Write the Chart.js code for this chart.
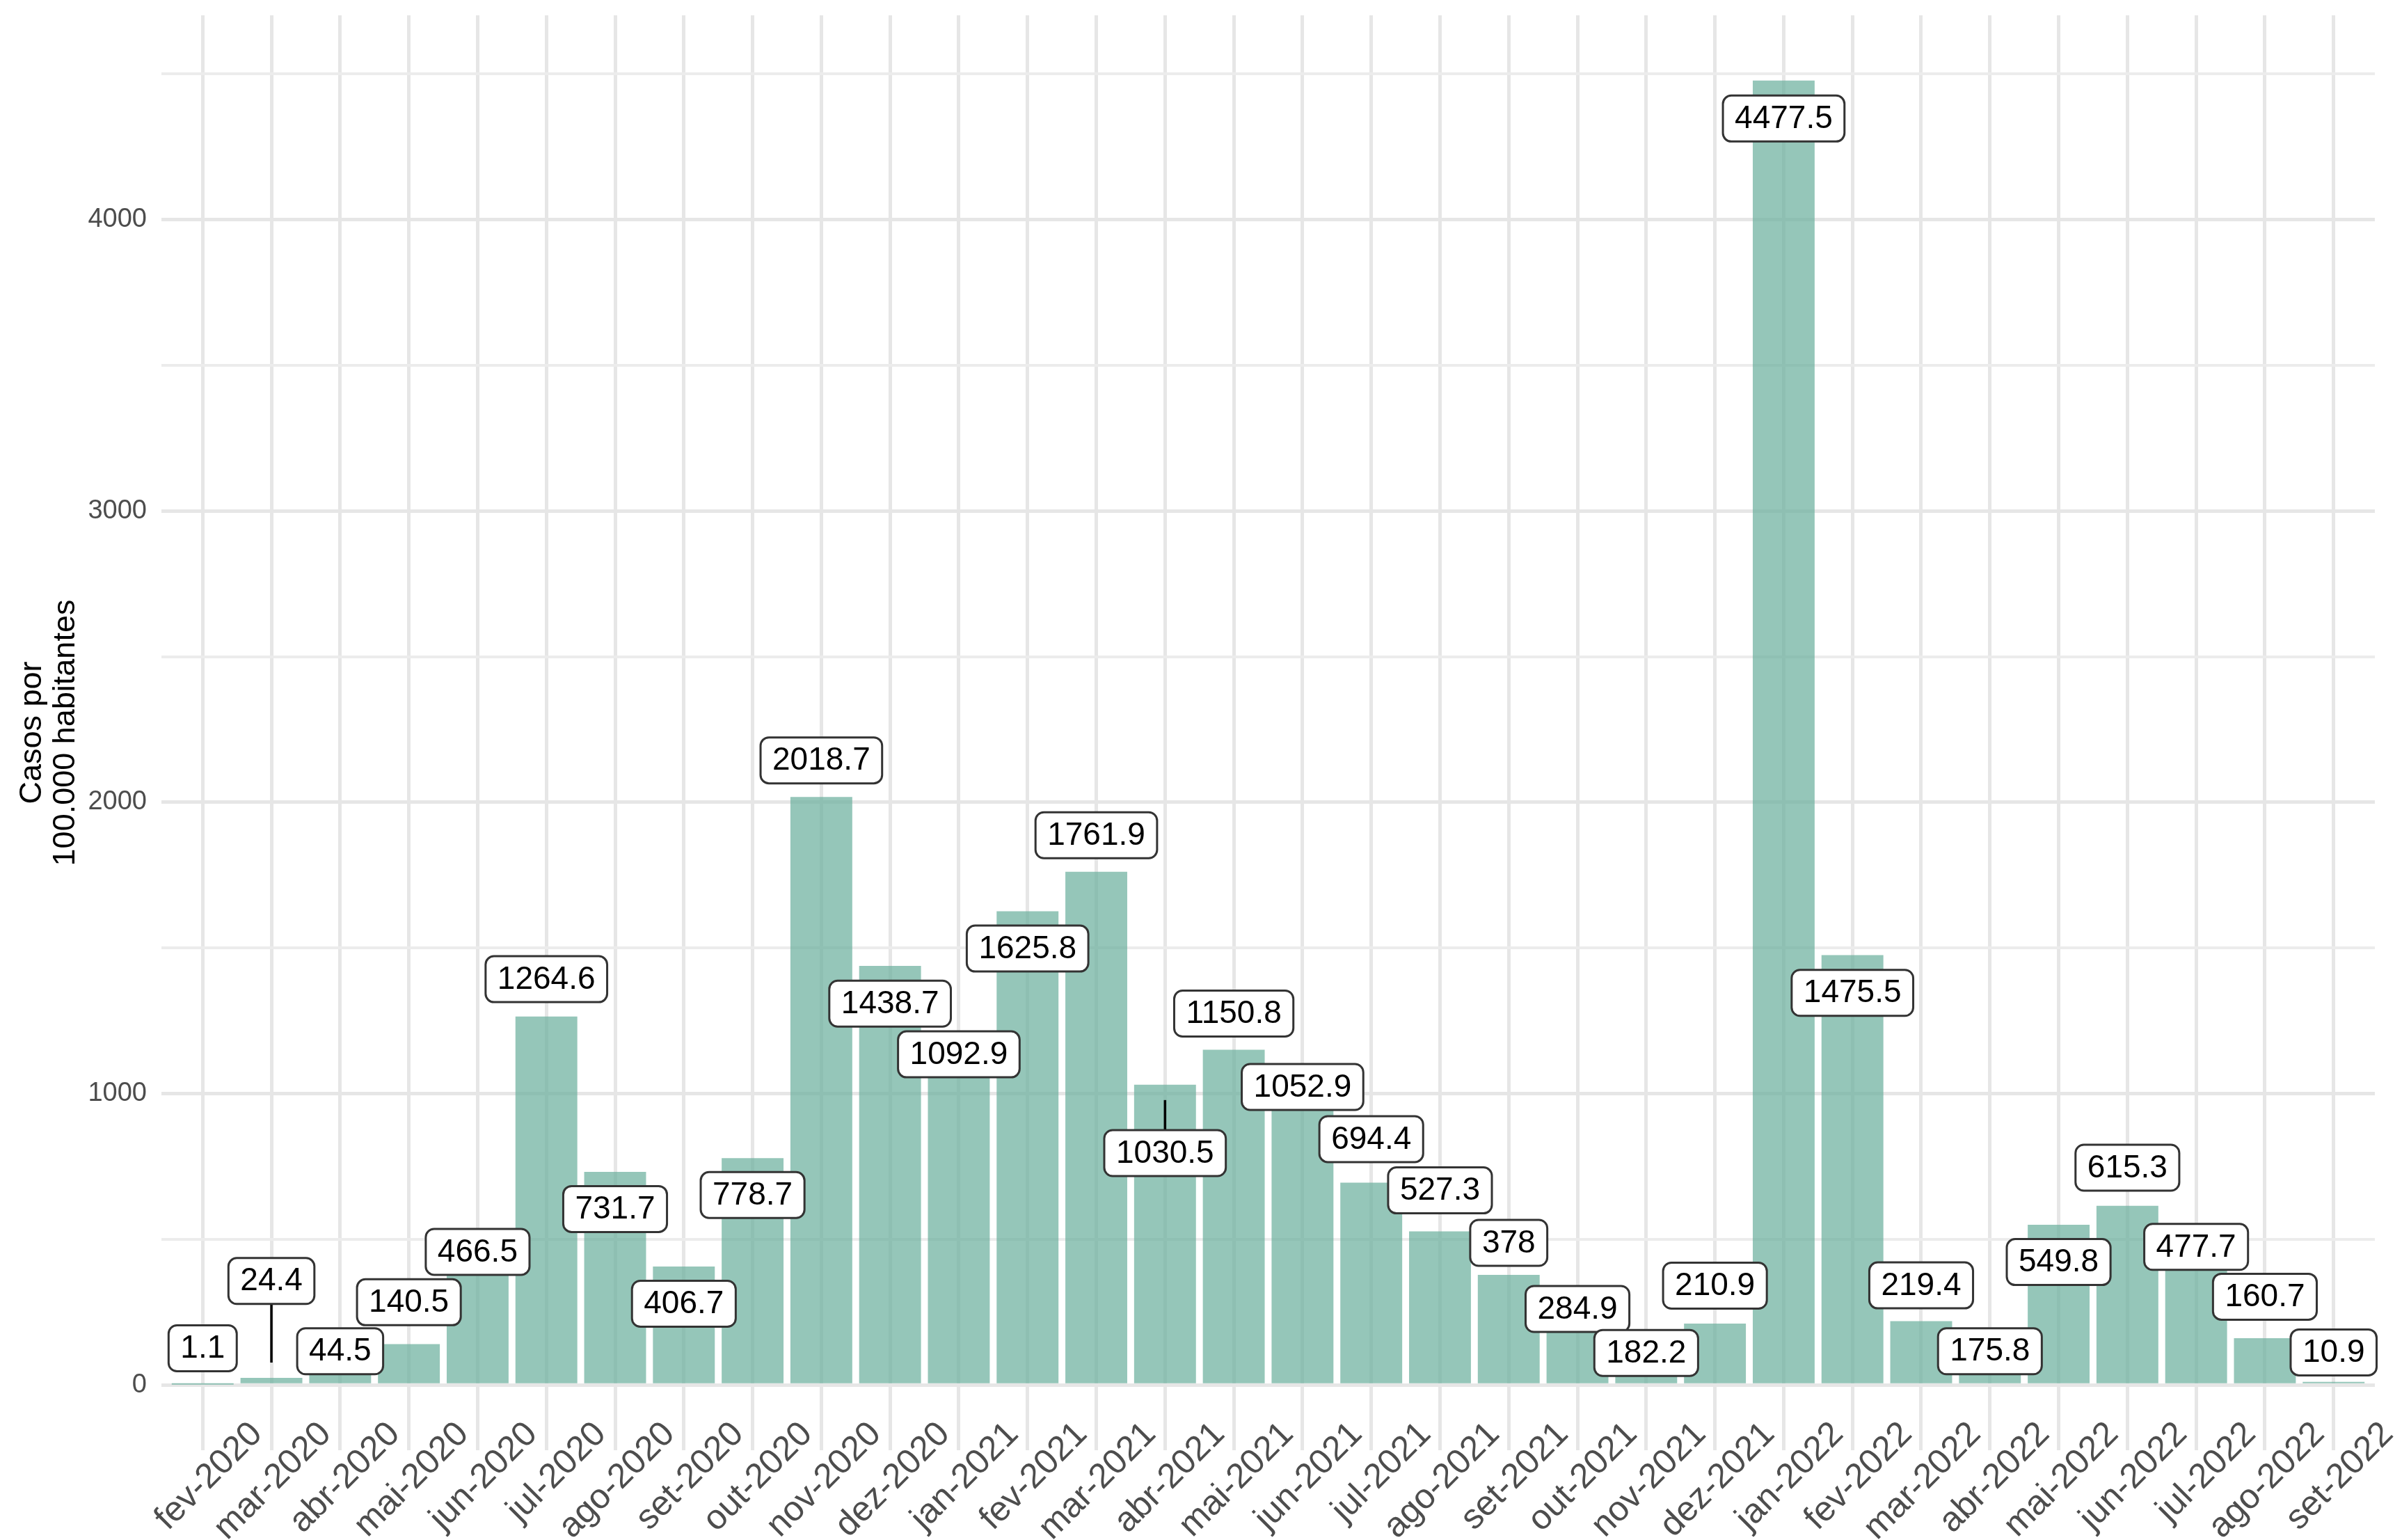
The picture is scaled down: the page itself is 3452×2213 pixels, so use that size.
<!DOCTYPE html>
<html>
<head>
<meta charset="utf-8">
<title>Casos por 100.000 habitantes</title>
<script src="https://cdn.jsdelivr.net/npm/chart.js@4.4.1/dist/chart.umd.min.js"></script>
<style>
    html, body { margin: 0; padding: 0; background: #fff; }
    #wrap { width: 3452px; height: 2213px; position: relative; }
</style>
</head>
<body>
<div id="wrap"><canvas id="grafico"></canvas></div>
<script>
// ========== DADOS ==========
const meses = [
    'fev-2020', 'mar-2020', 'abr-2020', 'mai-2020', 'jun-2020', 'jul-2020', 'ago-2020', 'set-2020',
    'out-2020', 'nov-2020', 'dez-2020', 'jan-2021', 'fev-2021', 'mar-2021', 'abr-2021', 'mai-2021',
    'jun-2021', 'jul-2021', 'ago-2021', 'set-2021', 'out-2021', 'nov-2021', 'dez-2021', 'jan-2022',
    'fev-2022', 'mar-2022', 'abr-2022', 'mai-2022', 'jun-2022', 'jul-2022', 'ago-2022', 'set-2022'
];
const casos = [
    1.1, 24.4, 44.5, 140.5, 466.5, 1264.6, 731.7, 406.7,
    778.7, 2018.7, 1438.7, 1092.9, 1625.8, 1761.9, 1030.5, 1150.8,
    1052.9, 694.4, 527.3, 378, 284.9, 182.2, 210.9, 4477.5,
    1475.5, 219.4, 175.8, 549.8, 615.3, 477.7, 160.7, 10.9
];
// altura (em casos) onde cada rótulo ficou depois do repel
const alturaRotulo = [
    126, 357, 116, 284, 457, 1393, 604, 279,
    652, 2144, 1309, 1135, 1498, 1887, 796, 1275,
    1023, 844, 668, 488, 261, 110, 341, 4347,
    1346, 342, 116, 422, 746, 474, 303, 112
];
const ticksY = [0, 1000, 2000, 3000, 4000];
const gradeMenorY = [500, 1500, 2500, 3500, 4500];
const tituloY = ['Casos por', '100.000 habitantes'];

// ========== ESTILO ==========
const FONTE = '"Liberation Sans", Arial, Helvetica, sans-serif';
const COR_BARRA = 'rgba(104,174,155,0.7)';
const COR_GRADE = '#e6e6e6';
const COR_TEXTO_EIXO = '#4d4d4d';

Chart.defaults.font.family = FONTE;

const maxCasos = Math.max(...casos);
const yMin = -0.05 * maxCasos;
const yMax = 1.05 * maxCasos;

// ========== RÓTULOS (tipo geom_label_repel) ==========
const rotulos = {
    id: 'rotulos',
    afterDatasetsDraw(chart) {
        const { ctx, scales: { x, y } } = chart;
        const h = 66;
        ctx.save();
        ctx.font = '46px ' + FONTE;
        ctx.textAlign = 'center';
        ctx.textBaseline = 'middle';

        const caixas = casos.map((v, i) => {
            const txt = String(v);
            const cx = x.getPixelForValue(i);
            const cy = y.getPixelForValue(alturaRotulo[i]);
            const py = y.getPixelForValue(v);
            const w = ctx.measureText(txt).width + 34;
            return { txt, cx, cy, py, w, topo: cy - h / 2, base: cy + h / 2 };
        });

        // segmentos primeiro
        caixas.forEach(c => {
            let gap = 0, dir = 0;
            if (c.py > c.base) { gap = c.py - c.base; dir = 1; }
            else if (c.py < c.topo) { gap = c.topo - c.py; dir = -1; }
            if (gap - 22 > 20) {
                ctx.beginPath();
                ctx.strokeStyle = '#000';
                ctx.lineWidth = 3.5;
                ctx.moveTo(c.cx, dir > 0 ? c.base : c.topo);
                ctx.lineTo(c.cx, c.py - dir * 22);
                ctx.stroke();
            }
        });

        caixas.forEach(c => {
            ctx.beginPath();
            ctx.roundRect(c.cx - c.w / 2, c.topo, c.w, h, 12);
            ctx.fillStyle = '#fff';
            ctx.fill();
            ctx.strokeStyle = '#333';
            ctx.lineWidth = 3;
            ctx.stroke();
            ctx.fillStyle = '#000';
            ctx.fillText(c.txt, c.cx, c.cy + 1);
        });
        ctx.restore();
    }
};

// ========== GRÁFICO ==========
const ctx = document.getElementById('grafico').getContext('2d');
new Chart(ctx, {
    type: 'bar',
    data: {
        datasets: [{
            data: casos.map((v, i) => ({ x: i, y: v })),
            backgroundColor: COR_BARRA,
            borderWidth: 0,
            barPercentage: 0.9,
            categoryPercentage: 1.0
        }]
    },
    options: {
        responsive: true,
        maintainAspectRatio: false,
        devicePixelRatio: 1,
        animation: false,
        layout: { padding: { top: 22, right: 39, bottom: 0, left: 0 } },
        plugins: {
            legend: { display: false },
            tooltip: { enabled: false }
        },
        scales: {
            x: {
                type: 'linear',
                min: -0.6,
                max: meses.length - 1 + 0.6,
                offset: false,
                border: { display: false },
                grid: { offset: false, color: COR_GRADE, lineWidth: 5, drawTicks: false },
                afterBuildTicks: s => { s.ticks = meses.map((m, i) => ({ value: i })); },
                afterFit: s => {
                    s.height = 129;
                    s.paddingLeft = 0;
                    s.paddingRight = 0;
                    // rótulos giram para cima da linha de base, como no ggplot
                    s._computeLabelArea = () => null;
                },
                ticks: {
                    autoSkip: false,
                    minRotation: 45,
                    maxRotation: 45,
                    labelOffset: 78,
                    padding: -52,
                    color: COR_TEXTO_EIXO,
                    font: { size: 50 },
                    callback: v => meses[v]
                }
            },
            y: {
                min: yMin,
                max: yMax,
                border: { display: false },
                grid: {
                    drawTicks: false,
                    color: c => ticksY.includes(c.tick.value) ? COR_GRADE : '#ececec',
                    lineWidth: c => ticksY.includes(c.tick.value) ? 5 : 4
                },
                afterBuildTicks: s => {
                    s.ticks = ticksY.concat(gradeMenorY).sort((a, b) => a - b).map(v => ({ value: v }));
                },
                afterFit: s => {
                    s.width = 232;
                    s.paddingTop = 0;
                    s.paddingBottom = 0;
                },
                ticks: {
                    autoSkip: false,
                    padding: 21,
                    color: COR_TEXTO_EIXO,
                    font: { size: 38 },
                    callback: v => ticksY.includes(v) ? String(v) : ''
                },
                title: {
                    display: true,
                    text: tituloY,
                    color: '#000',
                    font: { size: 45, lineHeight: 48 / 45 },
                    padding: { top: 23, bottom: 0 }
                }
            }
        }
    },
    plugins: [rotulos]
});
</script>
</body>
</html>
